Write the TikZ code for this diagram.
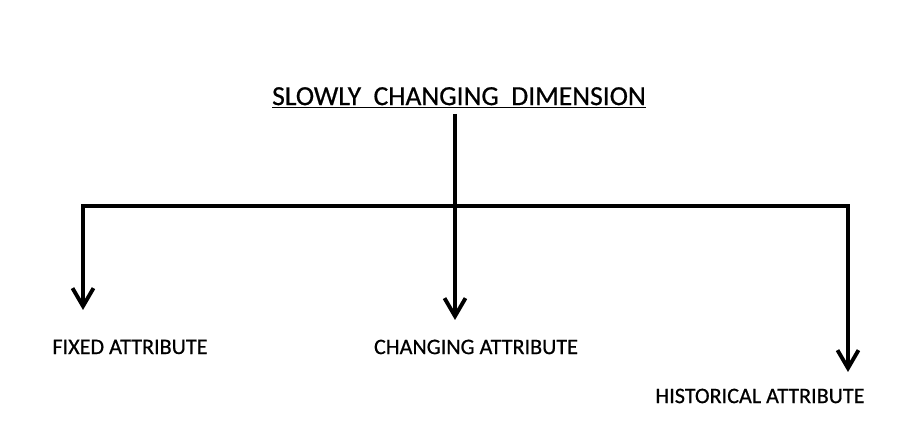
\documentclass[tikz,border=0pt]{standalone}
\usepackage{fontspec}
\setmainfont{Carlito}[FakeBold=0.6]
\usetikzlibrary{arrows.meta}
\begin{document}
\begin{tikzpicture}[x=0.02cm, y=0.02cm]
			% Define styles for the nodes and lines
			\tikzstyle{title} = [font=\fontsize{15.7}{19}\selectfont, inner sep=0pt]
			\tikzstyle{label} = [font=\fontsize{12.6}{15}\selectfont, inner sep=0pt]
			\tikzstyle{flow} = [line width=2.2pt, line join=miter]

			\useasboundingbox (0, 0) rectangle (916, 448);

			% Define the nodes with positions
			\node[title] (scd) at (459, 350) {\underline{SLOWLY~~CHANGING~~DIMENSION}};
			\node[label] (fixed) at (130, 101) {FIXED ATTRIBUTE};
			\node[label] (changing) at (476, 101) {CHANGING ATTRIBUTE};
			\node[label] (historical) at (760, 52) {HISTORICAL ATTRIBUTE};

			% Define the corners and the arrow tips
			\coordinate (top) at (455, 334);
			\coordinate (jl) at (83, 242);
			\coordinate (jr) at (848, 242);
			\coordinate (ftip) at (83, 138);
			\coordinate (ctip) at (455, 128);
			\coordinate (htip) at (848, 76);

			% Draw the arrows
			\draw[flow, {Straight Barb[length=3.6mm, width=4.2mm]}-{Straight Barb[length=3.6mm, width=4.2mm]}] (ftip) -- (jl) -- (jr) -- (htip);
			\draw[flow, -{Straight Barb[length=3.6mm, width=4.2mm]}] (top) -- (ctip);

		\end{tikzpicture}
\end{document}
